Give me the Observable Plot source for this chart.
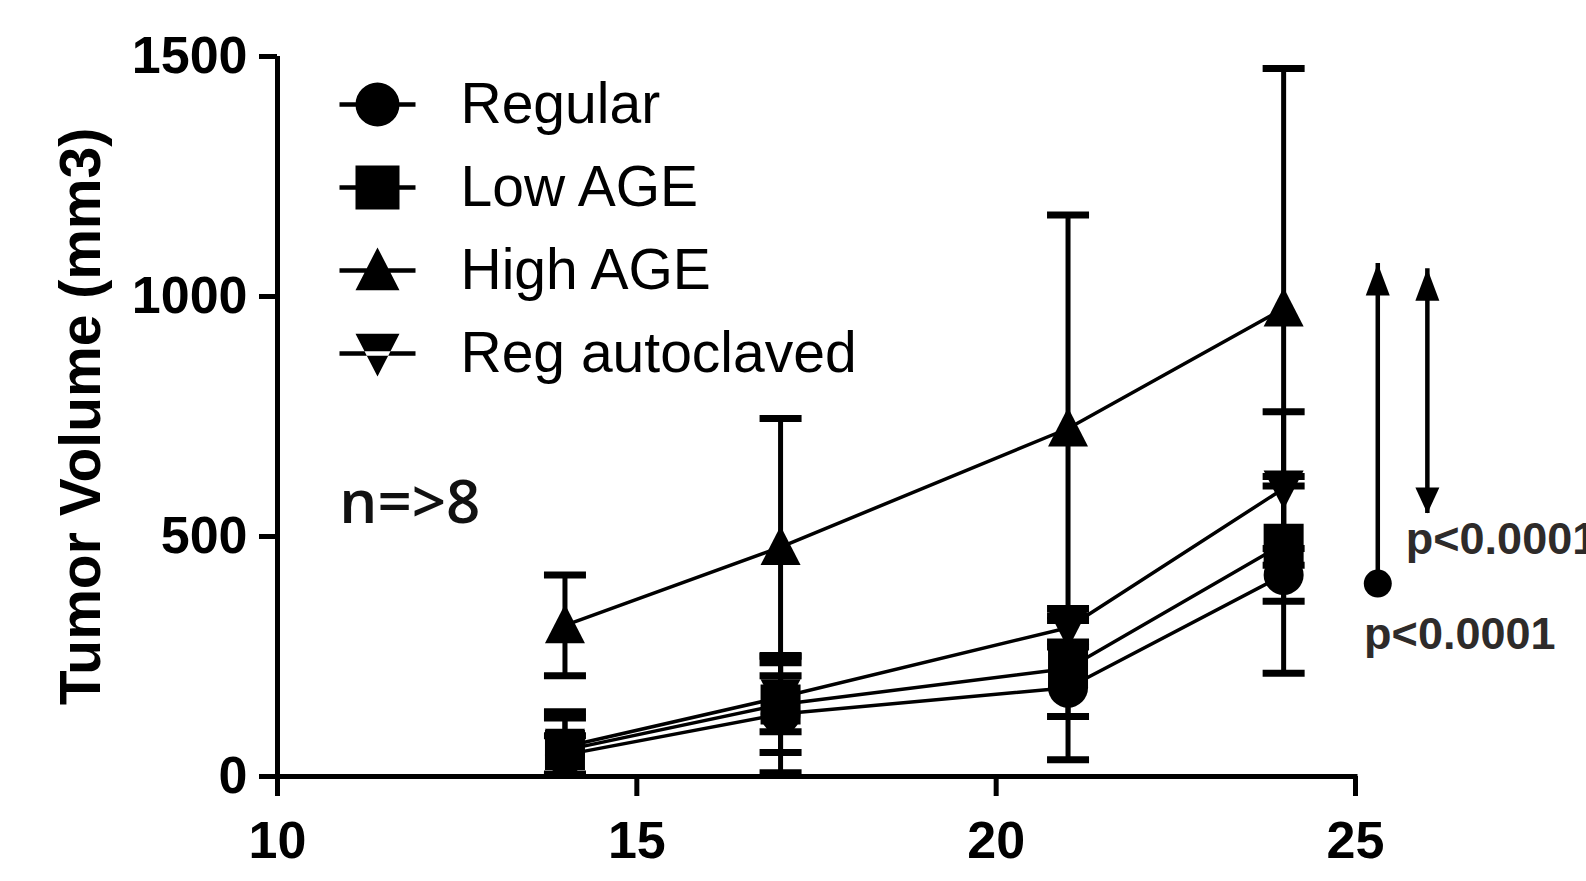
<!DOCTYPE html>
<html>
<head>
<meta charset="utf-8">
<script src="https://cdn.jsdelivr.net/npm/d3@7"></script>
<script src="https://cdn.jsdelivr.net/npm/@observablehq/plot@0.6"></script>
<style>
  html, body { margin: 0; padding: 0; background: #fff; }
  #chart svg { display: block; }
</style>
</head>
<body>
<div id="chart"></div>
<script>
// ---------- data ----------
const days = [14, 17, 21, 24];
const seriesNames = ["Regular", "Low AGE", "High AGE", "Reg autoclaved"];
const regularMean = [45, 130, 185, 420];
const regularErr  = [40, 122, 150, 205];
const lowAgeMean  = [55, 150, 225, 485];
const lowAgeErr   = [80, 100, 100, 120];
const highAgeMean = [315, 478, 725, 975];
const highAgeErr  = [105, 268, 445, 500];
const regAutoMean = [62, 165, 310, 600];
const regAutoErr  = [60, 72, 40, 160];
const xTicks = [10, 15, 20, 25];
const yTicks = [0, 500, 1000, 1500];
const yLabel = "Tumor Volume (mm3)";
const noteText = ["n=>8"];
const noteX = [10.86];
const noteY = [569];
// significance annotations (data units: day, tumor volume)
const pLabels = ["p<0.0001", "p<0.0001"];
const pLabelX = [25.70, 25.12];
const pLabelY = [494, 296];
const arrowX = [25.31, 26.0];
const arrowBottom = [402, 548];
const arrowTop = [1069, 1058];

// ---------- symbols ----------
function shapePath(kind, c, r) {
  if (kind === "circle") { c.moveTo(r, 0); c.arc(0, 0, r, 0, 2 * Math.PI); }
  else if (kind === "square") { c.rect(-r, -r, 2 * r, 2 * r); }
  else if (kind === "up") { c.moveTo(0, -r * 1.05); c.lineTo(r, r * 0.9); c.lineTo(-r, r * 0.9); c.closePath(); }
  else if (kind === "down") { c.moveTo(0, r * 1.05); c.lineTo(r, -r * 0.9); c.lineTo(-r, -r * 0.9); c.closePath(); }
}
const kinds = ["circle", "square", "up", "down"];
const markerSymbols = kinds.map(k => ({draw(c, size) { shapePath(k, c, Math.sqrt(size / Math.PI)); }}));
const legendSymbols = kinds.map(k => ({draw(c, size) {
  const r = Math.sqrt(size / Math.PI);
  c.rect(-38, -2.2, 76, 4.4);
  shapePath(k, c, r);
}}));
const capSymbol = {draw(c) { c.rect(-21, -3.5, 42, 7); }};
const headUp = {draw(c) { c.moveTo(0, 0); c.lineTo(12, 32); c.lineTo(-12, 32); c.closePath(); }};
const headDown = {draw(c) { c.moveTo(0, 0); c.lineTo(12, -26); c.lineTo(-12, -26); c.closePath(); }};

// ---------- table ----------
const means = [regularMean, lowAgeMean, highAgeMean, regAutoMean];
const errs = [regularErr, lowAgeErr, highAgeErr, regAutoErr];
const table = [];
seriesNames.forEach((s, i) => days.forEach((d, j) => table.push({
  series: s, idx: i, day: d, mean: means[i][j], lo: means[i][j] - errs[i][j], hi: means[i][j] + errs[i][j]
})));
const arrows = arrowX.map((x, i) => ({x, y1: arrowBottom[i], y2: arrowTop[i]}));
const pNotes = pLabels.map((t, i) => ({t, x: pLabelX[i], y: pLabelY[i]}));
const notes = noteText.map((t, i) => ({t, x: noteX[i], y: noteY[i]}));

const FONT = "'Liberation Sans', Arial, sans-serif";

const marks = [
  // error bars
  Plot.ruleX(table, {x: "day", y1: "lo", y2: "hi", stroke: "black", strokeWidth: 5, clip: true}),
  Plot.dot(table, {x: "day", y: "hi", symbol: capSymbol, r: 10, fill: "black", stroke: "none", clip: true}),
  Plot.dot(table, {x: "day", y: "lo", symbol: capSymbol, r: 10, fill: "black", stroke: "none", clip: true}),
  // lines
  Plot.line(table, {x: "day", y: "mean", z: "series", stroke: "black", strokeWidth: 3.5}),
  // markers
  ...seriesNames.map((s, i) => Plot.dot(table.filter(d => d.series === s), {
    x: "day", y: "mean", symbol: markerSymbols[i], r: 20, fill: "black", stroke: "none"
  })),
  // axes frame
  Plot.ruleX([10], {y1: 0, y2: 1500, stroke: "black", strokeWidth: 5}),
  Plot.ruleY([0], {x1: 10, x2: 25, stroke: "black", strokeWidth: 5, strokeLinecap: "square"}),
  Plot.axisX({ticks: xTicks, tickSize: 20, tickPadding: 25, strokeWidth: 5, fontSize: 52, fontWeight: "bold", label: null, tickFormat: d3.format("d")}),
  Plot.axisY({ticks: yTicks, tickSize: 18, tickPadding: 12, strokeWidth: 5, fontSize: 52, fontWeight: "bold", label: null, tickFormat: d3.format("d")}),
  Plot.text([yLabel], {frameAnchor: "left", dx: -196, rotate: -90, textAnchor: "middle", lineAnchor: "middle", fontSize: 57, fontWeight: "bold", fill: "black"}),
  // legend
  ...seriesNames.map((s, i) => Plot.dot([s], {frameAnchor: "top-left", dx: 100, dy: 48 + i * 83, symbol: legendSymbols[i], r: 22, fill: "black", stroke: "none"})),
  ...seriesNames.map((s, i) => Plot.text([s], {frameAnchor: "top-left", dx: 183, dy: 48 + i * 83, textAnchor: "start", lineAnchor: "middle", fontSize: 57, fontWeight: "normal", fill: "black"})),
  // n note
  Plot.text(notes, {x: "x", y: "y", text: "t", textAnchor: "start", lineAnchor: "middle", fontSize: 60, fontWeight: 600, fontFamily: "'Open Sans', sans-serif", fill: "#111"}),
  // significance arrows
  Plot.ruleX(arrows, {x: "x", y1: "y1", y2: "y2", stroke: "black", strokeWidth: 4.5}),
  Plot.dot(arrows, {x: "x", y: "y2", symbol: headUp, r: 10, fill: "black", stroke: "none"}),
  Plot.dot(arrows.slice(1), {x: "x", y: "y1", symbol: headDown, r: 10, fill: "black", stroke: "none"}),
  Plot.dot(arrows.slice(0, 1), {x: "x", y: "y1", r: 14, fill: "black", stroke: "none"}),
  Plot.text(pNotes, {x: "x", y: "y", text: "t", textAnchor: "start", lineAnchor: "middle", fontSize: 45, fontWeight: "bold", fill: "#2e2b2a"})
];

const chart = Plot.plot({
  width: 1586,
  height: 881,
  marginLeft: 277,
  marginRight: 231,
  marginTop: 56,
  marginBottom: 105,
  x: {domain: [10, 25], type: "linear"},
  y: {domain: [0, 1500], type: "linear"},
  style: {fontFamily: FONT, color: "black", background: "white", overflow: "visible"},
  marks
});
document.getElementById("chart").appendChild(chart);
</script>
</body>
</html>
